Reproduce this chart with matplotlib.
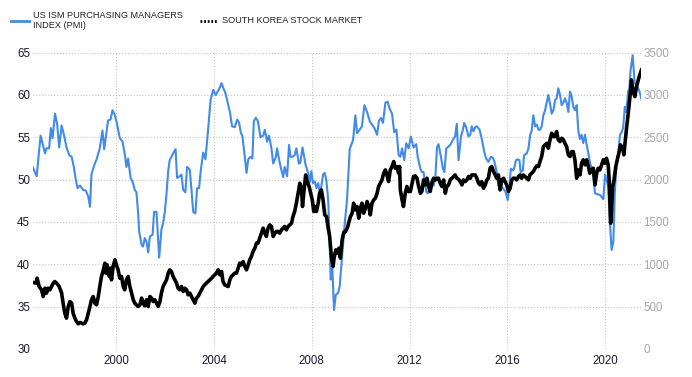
import matplotlib
matplotlib.use('Agg')
import matplotlib.pyplot as plt
from matplotlib.lines import Line2D

# US ISM PMI (decimal year, index value)
pmi_year = [
    1996.57, 1996.75, 1996.91,
    1997.09, 1997.15, 1997.26, 1997.33, 1997.40, 1997.50, 1997.59, 1997.67, 1997.77, 1997.88, 1997.97,
    1998.08, 1998.18, 1998.27, 1998.35, 1998.42, 1998.52, 1998.65, 1998.76, 1998.86, 1998.93, 1998.99,
    1999.09, 1999.20, 1999.33, 1999.44, 1999.51, 1999.67, 1999.77, 1999.85, 1999.95,
    2000.04, 2000.15, 2000.26, 2000.36, 2000.42, 2000.49, 2000.59, 2000.67, 2000.76, 2000.83, 2000.90, 2000.94,
    2001.04, 2001.10, 2001.17, 2001.24, 2001.31, 2001.38, 2001.49, 2001.55, 2001.65, 2001.76, 2001.85, 2001.92, 2001.99,
    2002.06, 2002.13, 2002.19, 2002.33, 2002.43, 2002.49, 2002.60, 2002.67, 2002.74, 2002.83, 2002.90,
    2003.01, 2003.08, 2003.15, 2003.24, 2003.31, 2003.39, 2003.46, 2003.56, 2003.65, 2003.76, 2003.86, 2003.97,
    2004.07, 2004.21, 2004.31, 2004.37, 2004.47, 2004.55, 2004.65, 2004.74, 2004.85, 2004.95,
    2005.03, 2005.10, 2005.16, 2005.26, 2005.33, 2005.40, 2005.49, 2005.57, 2005.63, 2005.71, 2005.80, 2005.90,
    2006.01, 2006.08, 2006.17, 2006.25, 2006.35, 2006.42, 2006.53, 2006.58, 2006.66, 2006.76, 2006.83, 2006.89, 2006.99,
    2007.07, 2007.13, 2007.21, 2007.30, 2007.37, 2007.47, 2007.53, 2007.62, 2007.67, 2007.75, 2007.85, 2007.92, 2007.98,
    2008.05, 2008.12, 2008.19, 2008.26, 2008.32, 2008.39, 2008.46, 2008.53, 2008.60, 2008.67, 2008.73, 2008.77, 2008.84, 2008.91, 2008.98,
    2009.07, 2009.14, 2009.25, 2009.35, 2009.44, 2009.55, 2009.69, 2009.78, 2009.85, 2009.96,
    2010.05, 2010.15, 2010.26, 2010.37, 2010.46, 2010.56, 2010.67, 2010.74, 2010.83, 2010.91,
    2011.01, 2011.10, 2011.18, 2011.28, 2011.37, 2011.46, 2011.55, 2011.62, 2011.69, 2011.78, 2011.86, 2011.96,
    2012.05, 2012.16, 2012.27, 2012.33, 2012.44, 2012.50, 2012.57, 2012.68, 2012.74, 2012.82, 2012.91, 2012.98,
    2013.05, 2013.12, 2013.18, 2013.28, 2013.36, 2013.42, 2013.50, 2013.55, 2013.66, 2013.77, 2013.86, 2013.93,
    2014.00, 2014.10, 2014.18, 2014.23, 2014.31, 2014.41, 2014.48, 2014.54, 2014.61, 2014.68, 2014.75, 2014.86, 2014.95,
    2015.05, 2015.13, 2015.22, 2015.32, 2015.40, 2015.47, 2015.56, 2015.63, 2015.73, 2015.84, 2015.93,
    2016.01, 2016.08, 2016.14, 2016.22, 2016.27, 2016.35, 2016.41, 2016.49, 2016.54, 2016.63, 2016.68, 2016.79, 2016.86, 2016.93, 2016.99,
    2017.06, 2017.13, 2017.20, 2017.27, 2017.33, 2017.40, 2017.47, 2017.54, 2017.61, 2017.67, 2017.74, 2017.81, 2017.88, 2017.95,
    2018.01, 2018.08, 2018.15, 2018.22, 2018.29, 2018.35, 2018.42, 2018.49, 2018.56, 2018.63, 2018.69, 2018.76, 2018.83, 2018.90, 2018.97,
    2019.03, 2019.10, 2019.17, 2019.24, 2019.31, 2019.37, 2019.44, 2019.51, 2019.58, 2019.65, 2019.78, 2019.92, 2019.99,
    2020.05, 2020.12, 2020.19, 2020.26, 2020.33, 2020.39, 2020.46, 2020.53, 2020.60, 2020.67, 2020.73, 2020.80, 2020.84, 2020.90, 2020.94, 2020.98,
    2021.03, 2021.12, 2021.20, 2021.30, 2021.38, 2021.48,
]
pmi_value = [
    51.6, 50.4, 55.2,
    53.1, 53.7, 53.7, 56.1, 54.9, 57.8, 56.5, 53.8, 56.4, 55.1, 53.8,
    52.9, 52.7, 51.5, 50.0, 49.0, 49.3, 48.8, 48.7, 48.0, 46.8, 50.6,
    51.6, 52.4, 53.7, 55.8, 53.6, 57.0, 57.1, 58.2, 57.6,
    56.5, 54.9, 54.5, 52.9, 51.5, 52.5, 50.2, 49.8, 48.8, 48.5, 46.0, 43.9,
    42.3, 42.1, 43.1, 42.7, 41.4, 43.3, 43.5, 46.2, 46.2, 40.8, 44.1, 44.9, 46.2,
    48.4, 51.1, 52.3, 53.1, 53.6, 50.2, 50.4, 50.6, 48.8, 48.5, 51.5,
    51.2, 48.8, 46.2, 46.0, 49.0, 49.0, 51.1, 53.2, 52.4, 55.9, 59.4, 60.6,
    60.0, 60.7, 61.4, 60.9, 60.2, 59.2, 58.0, 56.3, 56.2, 57.1,
    56.7, 55.5, 55.2, 52.7, 50.8, 52.4, 52.7, 52.5, 56.9, 57.3, 56.9, 55.0,
    55.2, 55.9, 54.5, 55.2, 53.7, 51.9, 52.7, 53.7, 52.4, 51.1, 50.3, 51.5, 50.4,
    54.1, 52.7, 52.7, 52.9, 53.7, 51.9, 52.0, 53.8, 53.0, 51.7, 50.8, 49.7, 51.0,
    49.6, 49.8, 49.0, 49.6, 48.6, 49.2, 50.6, 50.8, 49.8, 47.6, 42.7, 38.2, 39.5, 34.6, 36.4,
    36.6, 37.4, 41.3, 44.9, 47.6, 53.6, 54.7, 57.6, 55.5, 55.9,
    56.3, 58.8, 58.0, 56.9, 56.5, 56.1, 55.3, 56.9, 57.3, 56.7,
    59.1, 59.2, 58.4, 57.8, 55.6, 55.9, 52.9, 52.7, 53.7, 52.3, 54.3, 53.7,
    55.1, 53.8, 54.2, 52.7, 51.3, 50.9, 50.9, 48.6, 48.4, 49.0, 50.0, 49.3,
    50.2, 53.8, 54.2, 52.7, 51.3, 50.9, 53.7, 53.8, 54.1, 54.7, 55.1, 56.6,
    52.3, 55.1, 55.9, 56.7, 56.2, 55.1, 55.3, 56.3, 55.7, 56.2, 56.3, 55.9, 54.8,
    53.3, 52.5, 52.1, 52.7, 52.6, 52.1, 50.9, 49.3, 49.2, 48.9, 48.5,
    47.6, 49.2, 51.3, 51.1, 51.3, 52.3, 52.4, 52.3, 50.9, 51.1, 52.9, 53.1, 53.7, 55.3, 55.8,
    57.6, 56.3, 56.5, 55.9, 55.9, 56.3, 57.6, 58.2, 59.2, 60.0, 59.0, 57.8, 58.2, 59.4,
    59.6, 60.8, 60.0, 58.8, 59.1, 59.6, 59.1, 58.0, 60.4, 59.8, 58.6, 58.2, 58.8, 55.7, 54.8,
    55.3, 54.3, 55.3, 54.1, 53.1, 52.1, 51.3, 50.6, 48.4, 48.3, 48.2, 47.7, 50.6,
    50.0, 49.2, 44.9, 41.7, 42.7, 48.4, 51.9, 53.1, 55.3, 55.6, 56.1, 58.6, 58.0, 59.2, 60.5, 60.5,
    62.8, 64.7, 61.5, 61.0, 60.6, 59.5,
]

# South Korea stock market (KOSPI), right axis
stock_year = [
    1996.61, 1996.72, 1996.77, 1996.85, 1996.95,
    1997.02, 1997.09, 1997.15, 1997.22, 1997.29, 1997.43, 1997.49, 1997.59, 1997.67, 1997.77, 1997.83, 1997.90, 1997.97,
    1998.04, 1998.11, 1998.18, 1998.24, 1998.31, 1998.38, 1998.45, 1998.52, 1998.58, 1998.65, 1998.72, 1998.79, 1998.86, 1998.93, 1998.99,
    1999.06, 1999.13, 1999.20, 1999.27, 1999.33, 1999.40, 1999.47, 1999.54, 1999.58, 1999.63, 1999.72, 1999.77, 1999.81, 1999.88, 1999.95,
    2000.01, 2000.08, 2000.15, 2000.22, 2000.29, 2000.35, 2000.42, 2000.49, 2000.56, 2000.63, 2000.70, 2000.76, 2000.83, 2000.90, 2000.97,
    2001.04, 2001.10, 2001.17, 2001.24, 2001.31, 2001.38, 2001.45, 2001.51, 2001.58, 2001.65, 2001.72, 2001.79, 2001.85, 2001.92, 2001.99,
    2002.06, 2002.13, 2002.19, 2002.26, 2002.33, 2002.40, 2002.47, 2002.53, 2002.60, 2002.67, 2002.74, 2002.81, 2002.88, 2002.94,
    2003.01, 2003.08, 2003.15, 2003.22, 2003.28, 2003.35, 2003.42, 2003.49, 2003.56, 2003.62, 2003.69, 2003.76, 2003.83, 2003.90, 2003.96,
    2004.03, 2004.10, 2004.17, 2004.24, 2004.31, 2004.37, 2004.44, 2004.51, 2004.58, 2004.65, 2004.71, 2004.78, 2004.85, 2004.92, 2004.99,
    2005.05, 2005.12, 2005.19, 2005.26, 2005.33, 2005.40, 2005.46, 2005.53, 2005.60, 2005.67, 2005.74, 2005.80, 2005.87, 2005.94,
    2006.01, 2006.08, 2006.14, 2006.21, 2006.28, 2006.35, 2006.42, 2006.49, 2006.55, 2006.62, 2006.69, 2006.76, 2006.83, 2006.89, 2006.96,
    2007.03, 2007.10, 2007.17, 2007.23, 2007.30, 2007.37, 2007.44, 2007.51, 2007.58, 2007.62, 2007.67, 2007.75, 2007.81, 2007.89, 2007.94,
    2008.02, 2008.08, 2008.12, 2008.19, 2008.26, 2008.32, 2008.39, 2008.46, 2008.53, 2008.60, 2008.66, 2008.73, 2008.80, 2008.87, 2008.91, 2008.98,
    2009.05, 2009.11, 2009.17, 2009.24, 2009.31, 2009.38, 2009.45, 2009.52, 2009.58, 2009.65, 2009.71, 2009.78, 2009.85, 2009.92, 2009.99,
    2010.05, 2010.12, 2010.19, 2010.26, 2010.33, 2010.39, 2010.46, 2010.53, 2010.60, 2010.67, 2010.73, 2010.80, 2010.87, 2010.94,
    2011.01, 2011.07, 2011.14, 2011.21, 2011.28, 2011.35, 2011.41, 2011.48, 2011.55, 2011.59, 2011.62, 2011.69, 2011.75, 2011.82, 2011.89, 2011.96,
    2012.03, 2012.10, 2012.16, 2012.23, 2012.30, 2012.37, 2012.44, 2012.50, 2012.57, 2012.64, 2012.71, 2012.78, 2012.84, 2012.91, 2012.98,
    2013.05, 2013.12, 2013.18, 2013.25, 2013.32, 2013.39, 2013.46, 2013.52, 2013.59, 2013.66, 2013.73, 2013.80, 2013.86, 2013.93,
    2014.00, 2014.07, 2014.14, 2014.20, 2014.27, 2014.34, 2014.41, 2014.48, 2014.54, 2014.61, 2014.68, 2014.75, 2014.82, 2014.88, 2014.95,
    2015.02, 2015.09, 2015.16, 2015.22, 2015.29, 2015.36, 2015.43, 2015.50, 2015.56, 2015.63, 2015.70, 2015.77, 2015.84, 2015.90, 2015.97,
    2016.04, 2016.11, 2016.18, 2016.24, 2016.31, 2016.38, 2016.45, 2016.52, 2016.58, 2016.65, 2016.72, 2016.79, 2016.86, 2016.92, 2016.99,
    2017.06, 2017.13, 2017.20, 2017.27, 2017.33, 2017.40, 2017.47, 2017.54, 2017.61, 2017.67, 2017.74, 2017.81, 2017.88, 2017.95,
    2018.01, 2018.08, 2018.15, 2018.22, 2018.29, 2018.35, 2018.42, 2018.49, 2018.56, 2018.63, 2018.69, 2018.76, 2018.83, 2018.90, 2018.97,
    2019.03, 2019.10, 2019.17, 2019.24, 2019.31, 2019.37, 2019.44, 2019.51, 2019.58, 2019.65, 2019.71, 2019.78, 2019.85, 2019.92, 2019.99,
    2020.05, 2020.12, 2020.16, 2020.22, 2020.26, 2020.30, 2020.35, 2020.43, 2020.49, 2020.57, 2020.62, 2020.71, 2020.76, 2020.82, 2020.87, 2020.94,
    2021.01, 2021.07, 2021.14, 2021.21, 2021.28, 2021.35, 2021.41, 2021.48,
]
stock_value = [
    785, 778, 836, 738, 699,
    620, 718, 660, 718, 699, 778, 797, 770, 738, 660, 541, 423, 364,
    502, 561, 541, 423, 364, 325, 297, 313, 305, 297, 305, 345, 423, 502, 581,
    620, 541, 522, 620, 738, 856, 927, 1014, 896, 994, 856, 955, 817, 982, 1053,
    994, 935, 836, 856, 738, 699, 817, 856, 738, 660, 581, 541, 522, 502, 522,
    601, 541, 510, 581, 502, 620, 601, 561, 581, 541, 502, 561, 660, 738, 778,
    817, 896, 935, 915, 856, 817, 778, 718, 699, 738, 679, 718, 699, 640,
    660, 620, 581, 541, 601, 620, 660, 699, 738, 758, 778, 797, 817, 836, 856,
    876, 896, 935, 876, 915, 797, 758, 746, 738, 817, 856, 876, 896, 896, 955,
    1014, 994, 1033, 974, 935, 994, 1053, 1092, 1151, 1191, 1250, 1250, 1309, 1368,
    1427, 1368, 1329, 1427, 1466, 1447, 1329, 1368, 1388, 1388, 1368, 1407, 1427, 1447, 1407,
    1447, 1466, 1486, 1565, 1624, 1722, 1840, 1958, 1899, 1683, 1840, 2056, 1978, 1919, 1860,
    1761, 1624, 1683, 1624, 1722, 1840, 1879, 1761, 1584, 1565, 1447, 1329, 1092, 974, 1073, 1171,
    1132, 1191, 1073, 1290, 1380, 1388, 1427, 1500, 1565, 1604, 1722, 1643, 1683, 1545, 1663,
    1722, 1604, 1663, 1742, 1683, 1584, 1722, 1761, 1781, 1840, 1919, 1958, 1997, 2076,
    2115, 2056, 1978, 2115, 2155, 2214, 2135, 2155, 2076, 2155, 1879, 1761, 1683, 1840, 1919, 1860,
    1860, 1958, 2037, 2045, 2017, 1919, 1840, 1860, 1997, 1938, 2017, 1919, 1860, 1958, 2017,
    1997, 2017, 2017, 1958, 1919, 1997, 1840, 1919, 1938, 1997, 2017, 2037, 2056, 2017,
    2005, 1978, 1938, 1997, 1978, 1997, 2037, 2017, 2056, 2056, 2056, 2017, 1958, 1938, 1978,
    1899, 1938, 1997, 2017, 2135, 2155, 2096, 2056, 2017, 2056, 1879, 1997, 2017, 1978, 1938,
    1860, 1899, 1997, 2017, 2017, 1997, 2037, 2056, 2017, 2056, 2037, 2017, 1997, 2056, 2076,
    2096, 2135, 2163, 2155, 2214, 2273, 2391, 2411, 2430, 2371, 2470, 2548, 2509, 2509,
    2568, 2470, 2450, 2489, 2470, 2430, 2391, 2293, 2273, 2332, 2332, 2234, 2017, 2115, 2056,
    2194, 2234, 2175, 2234, 2155, 2076, 2115, 2135, 1938, 2076, 2135, 2115, 2175, 2234, 2194,
    2253, 2175, 1997, 1486, 1643, 1919, 1978, 2155, 2234, 2332, 2411, 2371, 2293, 2470, 2608, 2785,
    2981, 3178, 3040, 2981, 3099, 3178, 3237, 3296,
]

year_ticks = [2000, 2004, 2008, 2012, 2016, 2020]
pmi_ticks = [30, 35, 40, 45, 50, 55, 60, 65]
stock_ticks = [0, 500, 1000, 1500, 2000, 2500, 3000, 3500]

BLUE = '#428be6'
plt.rcParams['font.family'] = ['Liberation Sans', 'DejaVu Sans']

fig = plt.figure(figsize=(6.92, 3.77), dpi=100)
ax = fig.add_axes([0.0477, 0.0743, 0.8782, 0.786])
ax2 = ax.twinx()

ax.plot(pmi_year, pmi_value, color=BLUE, lw=1.5, solid_joinstyle='round')
ax2.plot(stock_year, stock_value, color='black', lw=2.6, solid_joinstyle='round')

ax.set_xlim(1996.6, 2021.45)
ax.set_ylim(30, 65)
ax2.set_ylim(0, 3500)
ax.set_xticks(year_ticks)
ax.set_yticks(pmi_ticks)
ax2.set_yticks(stock_ticks)

ax.grid(True, color='#c4c4c4', ls=':', lw=0.8)
for a in (ax, ax2):
    for s in a.spines.values():
        s.set_visible(False)
ax.tick_params(axis='x', length=0, labelsize=8.3, labelcolor='#1a1a2e', pad=4)
ax.tick_params(axis='y', length=0, labelsize=8.3, labelcolor='#1a1a2e', pad=2)
ax2.tick_params(axis='y', length=0, labelsize=8.3, labelcolor='#a8a8a8', pad=2)

# legend drawn by hand at the top
fig.add_artist(Line2D([11 / 692, 29 / 692], [1 - 20.7 / 377] * 2, color=BLUE, lw=2))
fig.text(33 / 692, 1 - 20.5 / 377, 'US ISM PURCHASING MANAGERS\nINDEX (PMI)',
         fontsize=6.6, color='#222222', va='center', ha='left', linespacing=1.15)
fig.add_artist(Line2D([200 / 692, 217 / 692], [1 - 20.7 / 377] * 2, color='black', lw=2,
                      ls=(0, (0.65, 0.65)), dash_capstyle='butt'))
fig.text(222 / 692, 1 - 20.7 / 377, 'SOUTH KOREA STOCK MARKET',
         fontsize=6.6, color='#222222', va='center', ha='left')

fig.savefig('out.png', dpi=100)
